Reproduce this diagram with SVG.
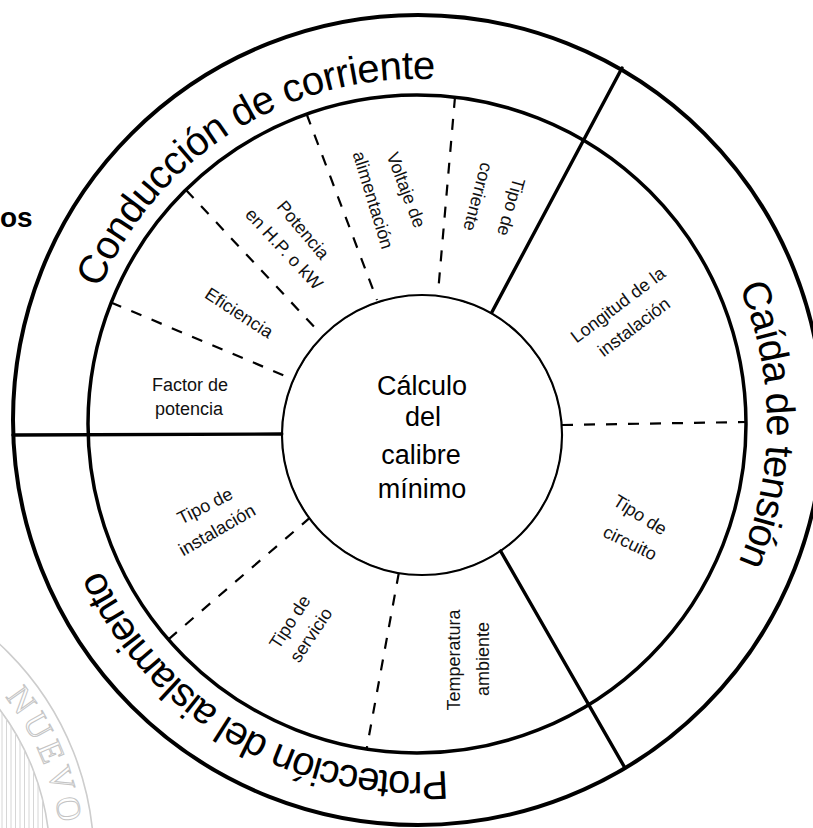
<svg xmlns="http://www.w3.org/2000/svg" width="813" height="828" viewBox="0 0 813 828">
  <style>
    .ring{fill:none;stroke:#000}
    .solid{stroke:#000;stroke-width:3.4;fill:none;stroke-linecap:round}
    .dash{stroke:#000;stroke-width:2.2;fill:none;stroke-dasharray:11 11}
    .lbl{font-family:"Liberation Sans",Arial,sans-serif;font-size:18px;fill:#111;text-anchor:middle}
    .big{font-family:"Liberation Sans",Arial,sans-serif;font-size:40px;fill:#000}
    .ctr{font-family:"Liberation Sans",Arial,sans-serif;font-size:27px;fill:#000;text-anchor:middle}
    .wm{fill:none;stroke:#cdcdcd;stroke-width:1.6}
    .wmh{stroke:#d6d6d6;stroke-width:1}
    .wmt{font-family:"Liberation Serif","Times New Roman",serif;font-size:34px;fill:none;stroke:#c4c4c4;stroke-width:1}
  </style>
  <defs>
    <path id="arcTop" d="M72,424 A345,345 0 0 1 568.2,113.9"/>
    <path id="arcRight" d="M592,120.9 A350,350 0 0 1 592,727.1"/>
    <path id="arcBottom" d="M591,725.4 A348,348 0 0 1 69,424"/>
    <path id="arcSeal" d="M-69,633.1 A262,262 0 0 1 62,860"/>
    <clipPath id="sealClip"><circle cx="-200" cy="860" r="250"/></clipPath>
  </defs>
  <rect width="813" height="828" fill="#fff"/>

  <g id="watermark">
    <circle class="wm" cx="-200" cy="860" r="294"/>
    <circle class="wm" cx="-200" cy="860" r="250"/>
    <g clip-path="url(#sealClip)">
      <line class="wmh" x1="2" y1="690" x2="2" y2="828"/>
      <line class="wmh" x1="6.5" y1="690" x2="6.5" y2="828"/>
      <line class="wmh" x1="11" y1="690" x2="11" y2="828"/>
      <line class="wmh" x1="15.5" y1="690" x2="15.5" y2="828"/>
      <line class="wmh" x1="20" y1="690" x2="20" y2="828"/>
      <line class="wmh" x1="24.5" y1="690" x2="24.5" y2="828"/>
      <line class="wmh" x1="29" y1="690" x2="29" y2="828"/>
      <line class="wmh" x1="33.5" y1="690" x2="33.5" y2="828"/>
      <line class="wmh" x1="38" y1="690" x2="38" y2="828"/>
      <line class="wmh" x1="42.5" y1="690" x2="42.5" y2="828"/>
    </g>
    <text class="wmt" letter-spacing="5"><textPath href="#arcSeal" startOffset="98">NUEVO</textPath></text>
  </g>

  <text x="0" y="227" font-family="'Liberation Sans',Arial,sans-serif" font-size="28" font-weight="bold">os</text>

  <g id="rings">
    <circle class="ring" cx="418" cy="420" r="405" stroke-width="4"/>
    <circle class="ring" cx="417" cy="424" r="329" stroke-width="3.5"/>
    <circle class="ring" cx="422" cy="435" r="140" stroke-width="2.2"/>
  </g>

  <g id="connectors">
    <line class="solid" x1="622" y1="68" x2="492" y2="312"/>
    <line class="solid" x1="500" y1="550" x2="625" y2="768"/>
    <line class="solid" x1="13" y1="435" x2="282" y2="434"/>
    <line class="dash" x1="111" y1="302.5" x2="290" y2="378"/>
    <line class="dash" x1="186" y1="190" x2="320" y2="333"/>
    <line class="dash" x1="306.6" y1="114" x2="377" y2="300"/>
    <line class="dash" x1="455" y1="97" x2="438" y2="293"/>
    <line class="dash" x1="562" y1="425" x2="746" y2="422"/>
    <line class="dash" x1="168.5" y1="639.3" x2="309.4" y2="518.2"/>
    <line class="dash" x1="398.8" y1="573" x2="366.6" y2="749"/>
  </g>

  <g id="group-conduccion">
    <text class="big" text-anchor="middle" letter-spacing="-0.6"><textPath href="#arcTop" startOffset="50%">Conducción de corriente</textPath></text>
  </g>
  <g id="group-caida">
    <text class="big" text-anchor="middle" letter-spacing="-1.3"><textPath href="#arcRight" startOffset="50%">Caída de tensión</textPath></text>
  </g>
  <g id="group-proteccion">
    <text class="big" text-anchor="middle" letter-spacing="-1.6"><textPath href="#arcBottom" startOffset="50%">Protección del aislamiento</textPath></text>
  </g>

  <g id="center">
    <circle cx="422" cy="435" r="138.5" fill="#fff"/>
    <text class="ctr" x="422" y="395">Cálculo</text>
    <text class="ctr" x="423" y="426">del</text>
    <text class="ctr" x="421" y="464">calibre</text>
    <text class="ctr" x="422" y="498">mínimo</text>
  </g>

  <g id="factor-potencia">
    <text class="lbl" x="190" y="391">Factor de</text>
    <text class="lbl" x="189" y="415">potencia</text>
  </g>
  <g id="eficiencia">
    <text class="lbl" transform="translate(239,313) rotate(33)" y="6">Eficiencia</text>
  </g>
  <g id="potencia">
    <text class="lbl" transform="translate(303,230) rotate(50)" y="6">Potencia</text>
    <text class="lbl" transform="translate(284,249) rotate(47)" y="6">en H.P. o kW</text>
  </g>
  <g id="voltaje">
    <text class="lbl" transform="translate(406,190) rotate(69)" y="6">Voltaje de</text>
    <text class="lbl" transform="translate(373,200) rotate(73)" y="6">alimentación</text>
  </g>
  <g id="tipo-corriente">
    <text class="lbl" transform="translate(511,207) rotate(106)" y="6">Tipo de</text>
    <text class="lbl" transform="translate(478,197) rotate(105)" y="6">corriente</text>
  </g>
  <g id="longitud">
    <text class="lbl" transform="translate(618,305) rotate(-37)" y="6">Longitud de la</text>
    <text class="lbl" transform="translate(634,327) rotate(-37)" y="6">instalación</text>
  </g>
  <g id="tipo-circuito">
    <text class="lbl" transform="translate(640,515) rotate(32)" y="6">Tipo de</text>
    <text class="lbl" transform="translate(630,543) rotate(26)" y="6">circuito</text>
  </g>
  <g id="temperatura">
    <text class="lbl" transform="translate(455,660) rotate(-90)" y="5">Temperatura</text>
    <text class="lbl" transform="translate(484,659) rotate(-90)" y="5">ambiente</text>
  </g>
  <g id="tipo-servicio">
    <text class="lbl" transform="translate(290,622) rotate(-57)" y="6">Tipo de</text>
    <text class="lbl" transform="translate(311,635) rotate(-56)" y="6">servicio</text>
  </g>
  <g id="tipo-instalacion">
    <text class="lbl" transform="translate(205,506) rotate(-27)" y="6">Tipo de</text>
    <text class="lbl" transform="translate(217,530) rotate(-30)" y="6">instalación</text>
  </g>
</svg>
